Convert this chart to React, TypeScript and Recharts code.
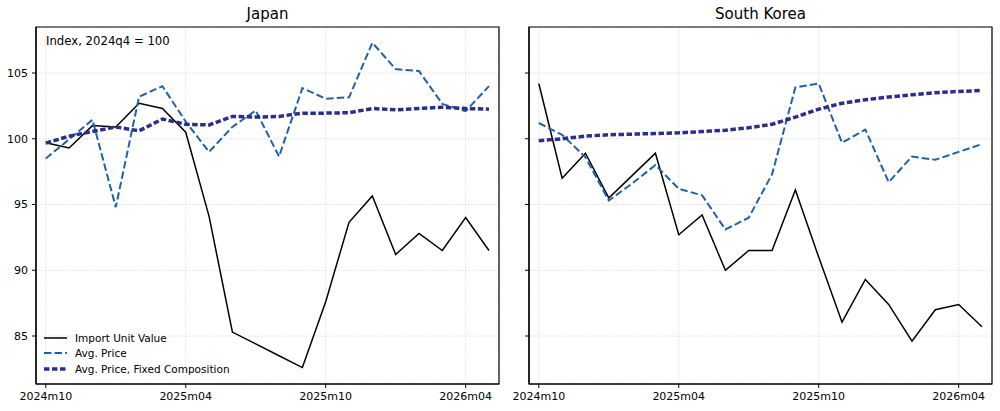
import React from 'react';
import { LineChart, Line, XAxis, YAxis, CartesianGrid, ReferenceArea, Legend } from 'recharts';

const months = [
  '2024m10', '2024m11', '2024m12', '2025m01', '2025m02', '2025m03', '2025m04', '2025m05', '2025m06', '2025m07',
  '2025m08', '2025m09', '2025m10', '2025m11', '2025m12', '2026m01', '2026m02', '2026m03', '2026m04', '2026m05',
];
const xTicks = [0, 6, 12, 18];
const yTicks = [85, 90, 95, 100, 105];

const jpImportUnitValue = [99.7, 99.3, 101.0, 100.9, 102.7, 102.3, 100.5, 94.1, 85.3, 84.4, 83.5, 82.6, 87.6, 93.65, 95.65, 91.2, 92.8, 91.5, 94.0, 91.5];
const jpAvgPrice = [98.5, 99.95, 101.45, 94.8, 103.2, 104.0, 101.3, 99.0, 100.9, 102.15, 98.65, 103.85, 103.05, 103.15, 107.3, 105.3, 105.15, 102.65, 102.1, 104.0];
const jpFixedComp = [99.67, 100.2, 100.55, 100.9, 100.6, 101.5, 101.1, 101.05, 101.7, 101.65, 101.7, 101.95, 101.95, 101.98, 102.3, 102.2, 102.3, 102.4, 102.3, 102.25];

const krImportUnitValue = [104.2, 97.0, 98.9, 95.5, 97.2, 98.9, 92.7, 94.2, 90.0, 91.5, 91.5, 96.1, 91.0, 86.05, 89.3, 87.4, 84.6, 87.0, 87.4, 85.7];
const krAvgPrice = [101.2, 100.3, 98.6, 95.3, 96.6, 98.0, 96.2, 95.7, 93.1, 94.0, 97.3, 103.9, 104.2, 99.7, 100.7, 96.7, 98.65, 98.4, 99.0, 99.6];
const krFixedComp = [99.85, 100.0, 100.2, 100.3, 100.35, 100.4, 100.45, 100.55, 100.65, 100.84, 101.1, 101.65, 102.25, 102.7, 102.97, 103.17, 103.35, 103.5, 103.6, 103.67];

const FONT = '"DejaVu Sans", sans-serif';
const X_DOMAIN: [number, number] = [-0.42, 19.43];
const Y_DOMAIN: [number, number] = [81.35, 108.5];

const SERIES = [
  { key: 'iuv', name: 'Import Unit Value', color: '#000000', width: 1.5, dash: undefined },
  { key: 'avg', name: 'Avg. Price', color: '#1f62aa', width: 2, dash: '7.4 3.2' },
  { key: 'fixed', name: 'Avg. Price, Fixed Composition', color: '#2b2e8c', width: 3.5, dash: '5.5 2.5' },
];

const buildRows = (iuv: number[], avg: number[], fixed: number[]) =>
  months.map((m, i) => ({ x: i, month: m, iuv: iuv[i], avg: avg[i], fixed: fixed[i] }));

const LegendBox = () => (
  <div style={{ fontFamily: FONT, fontSize: 10.5, color: '#000' }}>
    {SERIES.map((s) => (
      <div key={s.key} style={{ display: 'flex', alignItems: 'center', height: 15.6 }}>
        <svg width={23} height={8}>
          <line x1={0} y1={4} x2={23} y2={4} stroke={s.color} strokeWidth={s.width} strokeDasharray={s.dash} />
        </svg>
        <span style={{ marginLeft: 8, whiteSpace: 'nowrap' }}>{s.name}</span>
      </div>
    ))}
  </div>
);

interface PanelProps {
  title: string;
  rows: ReturnType<typeof buildRows>;
  left: number;
  yWidth: number;
  marginRight: number;
  showYLabels: boolean;
  showLegend: boolean;
  note?: string;
}

const Panel: React.FC<PanelProps> = ({ title, rows, left, yWidth, marginRight, showYLabels, showLegend, note }) => {
  const plotLeft = yWidth;
  const plotRight = 500 - marginRight;
  return (
    <div style={{ position: 'absolute', left, top: 0, width: 500, height: 411 }}>
      <div
        style={{
          position: 'absolute', top: 7, left: plotLeft, width: plotRight - plotLeft, textAlign: 'center',
          fontFamily: FONT, fontSize: 15, lineHeight: '15px', color: '#000',
        }}
      >
        {title}
      </div>
      <LineChart width={500} height={411} data={rows} margin={{ top: 27, right: marginRight, bottom: 0, left: 0 }}>
        <CartesianGrid stroke="#d8d8d8" strokeDasharray="1.5 1.5" strokeWidth={0.8} />
        <XAxis
          dataKey="x" type="number" domain={X_DOMAIN} ticks={xTicks} allowDataOverflow height={27}
          tickFormatter={(v: number) => months[v]} tickSize={4} tickMargin={4}
          tick={{ fill: '#000', fontSize: 11, fontFamily: FONT }}
          stroke="#000" axisLine={{ stroke: '#000', strokeWidth: 1.2 }}
        />
        <YAxis
          type="number" domain={Y_DOMAIN} ticks={yTicks} allowDataOverflow width={yWidth}
          tickFormatter={(v: number) => (showYLabels ? String(v) : '')} tickSize={4} tickMargin={4}
          tick={{ fill: '#000', fontSize: 11, fontFamily: FONT }}
          stroke="#000" axisLine={{ stroke: '#000', strokeWidth: 1.2 }}
        />
        <ReferenceArea
          x1={X_DOMAIN[0]} x2={X_DOMAIN[1]} y1={Y_DOMAIN[0]} y2={Y_DOMAIN[1]}
          fill="none" stroke="#000" strokeWidth={1.2} fillOpacity={0}
          label={note ? { value: note, position: 'insideTopLeft', offset: 10, fill: '#000', fontSize: 11.7, fontFamily: FONT } : undefined}
        />
        {SERIES.map((s) => (
          <Line
            key={s.key} type="linear" dataKey={s.key} name={s.name} stroke={s.color} strokeWidth={s.width}
            strokeDasharray={s.dash} dot={false} activeDot={false} isAnimationActive={false}
          />
        ))}
        {showLegend && (
          <Legend
            layout="vertical" align="center" verticalAlign="middle" content={<LegendBox />}
            wrapperStyle={{ left: 44, top: 330, width: 'auto', height: 'auto' }}
          />
        )}
      </LineChart>
    </div>
  );
};

export default function App() {
  const jp = buildRows(jpImportUnitValue, jpAvgPrice, jpFixedComp);
  const kr = buildRows(krImportUnitValue, krAvgPrice, krFixedComp);
  return (
    <div style={{ position: 'absolute', left: 0, top: 0, width: 1000, height: 411, background: '#fff' }}>
      <Panel title="Japan" rows={jp} left={0} yWidth={36} marginRight={1} showYLabels showLegend note="Index, 2024q4 = 100" />
      <Panel title="South Korea" rows={kr} left={500} yWidth={29} marginRight={8} showYLabels={false} showLegend={false} />
    </div>
  );
}
